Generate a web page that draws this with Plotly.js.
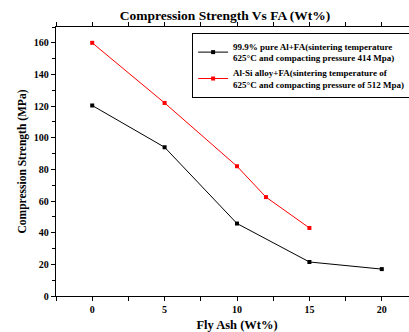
<!DOCTYPE html>
<html><head><meta charset="utf-8">
<script src="https://cdn.plot.ly/plotly-3.0.1.min.js"></script>
<style>html,body{margin:0;padding:0;overflow:hidden;background:#fff;width:409px;height:332px}</style>
</head><body><div id="c"></div>
<script>
const flyAshPure = [0, 5, 10, 15, 20];
const strengthPure = [120.4, 94, 45.8, 21.5, 17];
const flyAshAlloy = [0, 5, 10, 12, 15];
const strengthAlloy = [160, 122, 82, 62.5, 43];
const namePure = "<b>99.9% pure Al+FA(sintering temperature<br>625°C and compacting pressure 414 Mpa)</b>";
const nameAlloy = "<b>Al-Si alloy+FA(sintering temperature of<br>625°C and compacting pressure of 512 Mpa)</b>";

const fam = '"Liberation Serif", "Times New Roman", serif';
const font = {family: fam, color: "#000"};
const traces = [
  {x: flyAshPure, y: strengthPure, name: namePure, mode: "lines+markers",
   line: {color: "#000", width: 1}, marker: {symbol: "square", size: 4, color: "#000"}},
  {x: flyAshAlloy, y: strengthAlloy, name: nameAlloy, mode: "lines+markers",
   line: {color: "#ff0000", width: 1}, marker: {symbol: "square", size: 4, color: "#ff0000"}}
];
const axisCommon = {showgrid: false, zeroline: false, showline: true, linecolor: "#000", linewidth: 1.3,
  mirror: "allticks", ticks: "outside", ticklen: 4, tickwidth: 1, tickcolor: "#000",
  tickfont: {family: fam, color: "#000", size: 10, weight: "bold"}};
const layout = {
  width: 480, height: 332,
  margin: {l: 56, r: 62, t: 27, b: 36},
  paper_bgcolor: "#fff", plot_bgcolor: "#fff",
  font: font,
  title: {text: "<b>Compression Strength Vs FA (Wt%)</b>", font: {family: fam, color: "#000", size: 13.5},
    x: 0.467, xref: "paper", xanchor: "center", y: 0.955, yref: "container", yanchor: "middle"},
  xaxis: Object.assign({}, axisCommon, {range: [-2.5, 22.5], tickvals: [0, 5, 10, 15, 20],
    minor: {tickvals: [-2.5, 2.5, 7.5, 12.5, 17.5, 22.5], ticklen: 4, tickcolor: "#000", ticks: "outside"},
    title: {text: "<b>Fly Ash (Wt%)</b>", font: {family: fam, color: "#000", size: 12.5}, standoff: 10}}),
  yaxis: Object.assign({}, axisCommon, {range: [0, 170], dtick: 20, tick0: 0,
    minor: {dtick: 10, ticklen: 3, tickcolor: "#000", ticks: "outside"},
    title: {text: "<b>Compression Strength (MPa)</b>", font: {family: fam, color: "#000", size: 11.5}, standoff: 4}}),
  showlegend: true,
  legend: {x: 0.376, y: 0.978, xanchor: "left", yanchor: "top", bordercolor: "#000", borderwidth: 1,
    bgcolor: "#fff", font: {family: fam, color: "#000", size: 9}, tracegroupgap: 0, itemwidth: 30}
};
Plotly.newPlot("c", traces, layout, {displayModeBar: false, staticPlot: true});
</script></body></html>
